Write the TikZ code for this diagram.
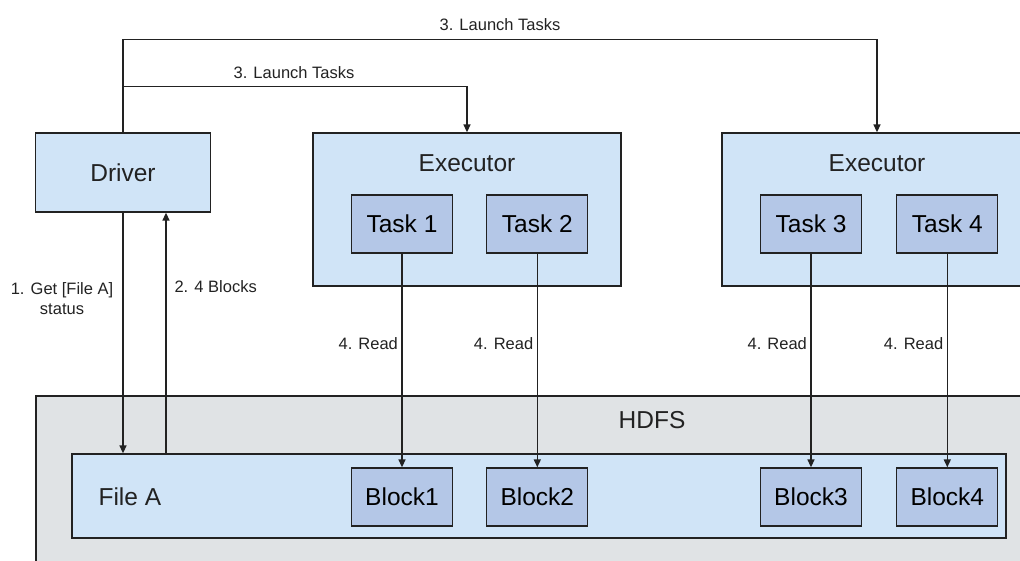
\documentclass[tikz,border=0pt]{standalone}
\usepackage{fontspec}
\setmainfont{Liberation Sans}
\usetikzlibrary{arrows.meta,positioning}
\definecolor{paleblue}{RGB}{208,228,247}
\definecolor{taskblue}{RGB}{180,199,231}
\definecolor{hdfsgray}{RGB}{224,227,229}
\definecolor{ink}{RGB}{34,34,34}
\tikzset{
  box/.style={draw=ink,line width=1.3pt,fill=paleblue,inner sep=0pt},
  taskbox/.style={box,fill=taskblue,minimum width=101pt,minimum height=58pt,font=\fontsize{24.5}{28}\selectfont},
  big/.style={font=\fontsize{24.5}{28}\selectfont,text=ink},
  lbl/.style={font=\fontsize{16.5}{20}\selectfont,text=ink},
  arr/.style={draw=ink,line width=1.5pt,-{Triangle[length=8pt,width=7pt]}},
}
\begin{document}
\begin{tikzpicture}[x=1pt,y=-1pt]
\clip (0,0) rectangle (1020,561);
% HDFS area with file A and its blocks
\node[box,fill=hdfsgray,minimum width=1064pt,minimum height=224pt] (hdfs) at (568,508) {};
\node[big] (hdfstitle) at (652,420) {HDFS};
\node[box,minimum width=934pt,minimum height=84pt] (filea) at (539,496) {};
\node[big,anchor=west] (fileatitle) at (95,497) {File A};
\node[taskbox] (block1) at (402,497) {Block1};
\node[taskbox,right=33pt of block1] (block2) {Block2};
\node[taskbox] (block3) at (811,497) {Block3};
\node[taskbox,right=34pt of block3] (block4) {Block4};
% driver
\node[box,big,minimum width=175pt,minimum height=79pt] (driver) at (123,172.5) {Driver};
% executors with their tasks
\node[box,minimum width=308pt,minimum height=153pt] (exec1) at (467,209.5) {};
\node[big] (exec1title) at (467,163) {Executor};
\node[taskbox] (task1) at (402,224) {Task 1};
\node[taskbox,right=33pt of task1] (task2) {Task 2};
\node[box,minimum width=310pt,minimum height=153pt] (exec2) at (877,209.5) {};
\node[big] (exec2title) at (877,163) {Executor};
\node[taskbox] (task3) at (811,224) {Task 3};
\node[taskbox,right=34pt of task3] (task4) {Task 4};
% launch tasks
\draw[arr] (driver.north) -- ++(0,-93) -| (exec2.north);
\draw[arr] (driver.north) -- ++(0,-46) -| (exec1.north);
\node[lbl] (launchout) at (500,25) {3. Launch Tasks};
\node[lbl] (launchin) at (294,73) {3. Launch Tasks};
% driver <-> file A
\coordinate (getend) at (driver.south);
\coordinate (blkend) at ([xshift=43pt]driver.south);
\draw[arr] (getend) -- (getend |- filea.north);
\draw[arr] (blkend |- filea.north) -- (blkend);
\node[lbl,align=center] (getlbl) at (62,299) {1. Get [File A]\\status};
\node[lbl,anchor=west] (blklbl) at (171,287) {2. 4 Blocks};
% reads
\foreach \i in {1,...,4}
  \draw[arr] (task\i.south) -- (block\i.north) node[lbl,left,pos=0.42] {4. Read};
\end{tikzpicture}
\end{document}
